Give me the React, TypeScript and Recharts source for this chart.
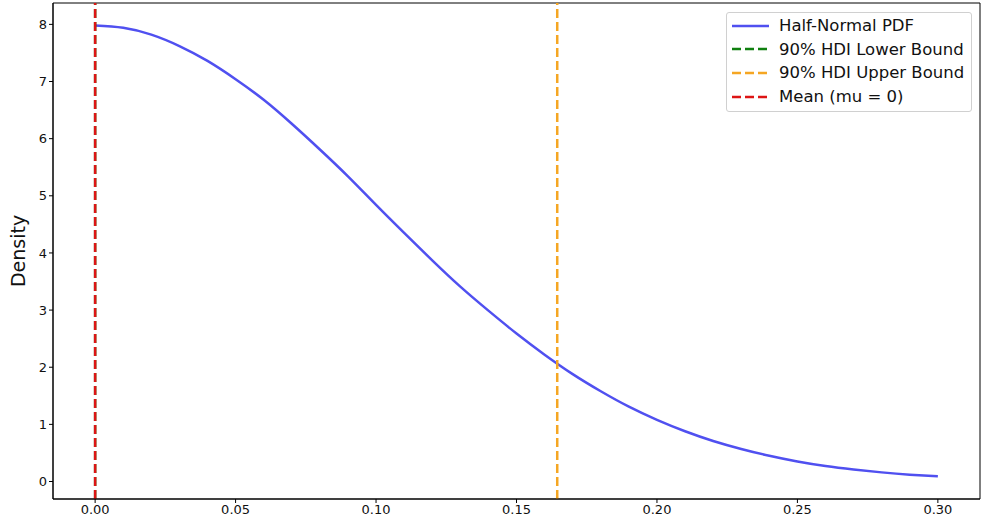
import React from 'react';
import { LineChart, Line, XAxis, YAxis, ReferenceLine, ReferenceArea } from 'recharts';

// x positions and half-normal density
const xValues = [
  0, 0.01, 0.02, 0.03, 0.04, 0.05, 0.06, 0.07, 0.08, 0.09, 0.1, 0.11, 0.12, 0.13, 0.14, 0.15,
  0.16, 0.17, 0.18, 0.19, 0.2, 0.21, 0.22, 0.23, 0.24, 0.25, 0.26, 0.27, 0.28, 0.29, 0.3,
];
const density = [
  7.98, 7.94, 7.82, 7.62, 7.36, 7.04, 6.68, 6.26, 5.81, 5.34, 4.84, 4.35, 3.87, 3.41, 2.99, 2.59,
  2.22, 1.88, 1.58, 1.31, 1.08, 0.88, 0.71, 0.57, 0.45, 0.35, 0.27, 0.21, 0.16, 0.12, 0.09,
];
const xTicks = [0, 0.05, 0.1, 0.15, 0.2, 0.25, 0.3];
const yTicks = [0, 1, 2, 3, 4, 5, 6, 7, 8];
const hdiLower = 0;
const hdiUpper = 0.1645;
const mean = 0;

const legendItems = [
  { label: 'Half-Normal PDF', color: '#5050f0', dashed: false },
  { label: '90% HDI Lower Bound', color: '#108010', dashed: true },
  { label: '90% HDI Upper Bound', color: '#f5a623', dashed: true },
  { label: 'Mean (mu = 0)', color: '#dd1515', dashed: true },
];

const data = xValues.map((x, i) => ({ x, pdf: density[i] }));

const font = 'DejaVu Sans, sans-serif';
const xDomain = [-0.015, 0.315];
const yDomain = [-0.306, 8.374];
const dash = '9 4';

const LegendBox = () => (
  <div
    style={{
      position: 'absolute',
      left: 726,
      top: 12,
      border: '1px solid #d0d0d0',
      borderRadius: 3,
      background: 'rgba(255,255,255,0.85)',
      padding: '1px 7px 3px 5px',
      fontFamily: font,
      fontSize: 16.5,
      color: '#111',
    }}
  >
    {legendItems.map((it) => (
      <div key={it.label} style={{ display: 'flex', alignItems: 'center', height: 23.6 }}>
        <svg width={37} height={6} style={{ marginRight: 10 }}>
          <line
            x1={0}
            y1={3}
            x2={37}
            y2={3}
            stroke={it.color}
            strokeWidth={2.5}
            strokeDasharray={it.dashed ? dash : undefined}
          />
        </svg>
        <span>{it.label}</span>
      </div>
    ))}
  </div>
);

const tickStyle = { fill: '#111', fontSize: 13, fontFamily: font };

export default function App() {
  return (
    <div style={{ position: 'absolute', left: 0, top: 0, width: 989, height: 524, background: '#fff' }}>
      <LineChart width={989} height={524} data={data} margin={{ top: 3, right: 9, bottom: 0, left: 13 }}>
        <XAxis
          dataKey="x"
          type="number"
          domain={xDomain}
          ticks={xTicks}
          tickFormatter={(v: number) => v.toFixed(2)}
          tick={tickStyle}
          stroke="#000"
          tickSize={4}
          height={25}
          allowDataOverflow
        />
        <YAxis
          type="number"
          domain={yDomain}
          ticks={yTicks}
          tick={tickStyle}
          stroke="#000"
          tickSize={4}
          width={40}
          allowDataOverflow
          label={{
            content: () => (
              <text
                transform="translate(25,251) rotate(-90)"
                textAnchor="middle"
                style={{ fontFamily: font, fontSize: 19, fill: '#111' }}
              >
                Density
              </text>
            ),
          }}
        />
        <ReferenceArea
          x1={xDomain[0]}
          x2={xDomain[1]}
          y1={yDomain[0]}
          y2={yDomain[1]}
          fill="none"
          stroke="#000"
          strokeWidth={1}
          ifOverflow="visible"
        />
        <Line
          type="natural"
          dataKey="pdf"
          stroke="#5050f0"
          strokeWidth={2.5}
          dot={false}
          isAnimationActive={false}
        />
        <ReferenceLine x={hdiLower} stroke="#108010" strokeWidth={2.5} strokeDasharray={dash} />
        <ReferenceLine x={hdiUpper} stroke="#f5a623" strokeWidth={2.5} strokeDasharray={dash} />
        <ReferenceLine x={mean} stroke="#dd1515" strokeWidth={2.5} strokeDasharray={dash} />
      </LineChart>
      <LegendBox />
    </div>
  );
}
